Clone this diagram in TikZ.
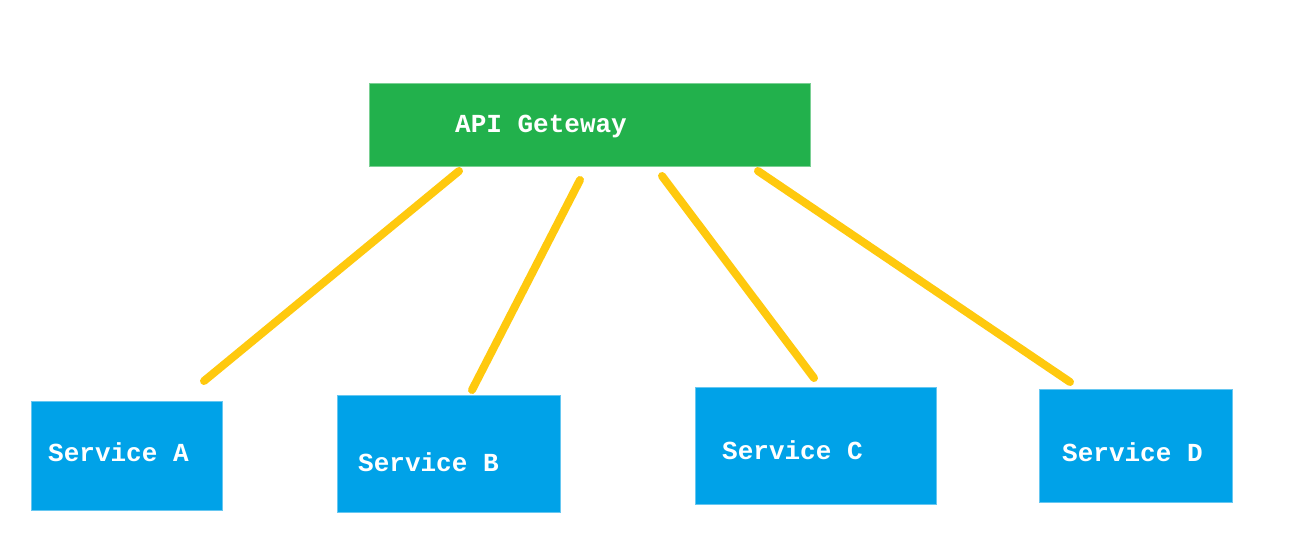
\documentclass[tikz,border=0pt]{standalone}
\usepackage{fontspec}
\setmonofont{Liberation Mono}
\definecolor{gwgreen}{RGB}{34,177,76}
\definecolor{svblue}{RGB}{0,162,232}
\definecolor{linkgold}{RGB}{255,201,14}
\begin{document}
\begin{tikzpicture}[x=1pt,y=-1pt,
  gwbox/.style={fill=gwgreen,draw=gwgreen!60!white,line width=0.8pt},
  svbox/.style={fill=svblue,draw=svblue!60!white,line width=0.8pt},
  lbl/.style={anchor=base west,inner sep=0pt,text=white,font=\ttfamily\bfseries\fontsize{26}{28}\selectfont},
  link/.style={draw=linkgold,line width=8pt,line cap=round}]
\useasboundingbox[fill=white] (0,0) rectangle (1293,554);
% boxes
\draw[gwbox] (369,83) rectangle (810,166);
\node[lbl] (gw) at (455,132) {API Geteway};
\draw[svbox] (31,401) rectangle (222,510);
\node[lbl] (sa) at (48,461) {Service A};
\draw[svbox] (337,395) rectangle (560,512);
\node[lbl] (sb) at (358,471) {Service B};
\draw[svbox] (695,387) rectangle (936,504);
\node[lbl] (sc) at (722,459) {Service C};
\draw[svbox] (1039,389) rectangle (1232,502);
\node[lbl] (sd) at (1062,461) {Service D};
% connector ends
\coordinate (g1) at (459,171);
\coordinate (g2) at (580,180);
\coordinate (g3) at (662,176);
\coordinate (g4) at (758,171);
\coordinate (a1) at (204,381);
\coordinate (b1) at (472,390);
\coordinate (c1) at (814,378);
\coordinate (d1) at (1070,382);
\draw[link] (g1) -- (a1);
\draw[link] (g2) -- (b1);
\draw[link] (g3) -- (c1);
\draw[link] (g4) -- (d1);
\end{tikzpicture}
\end{document}
